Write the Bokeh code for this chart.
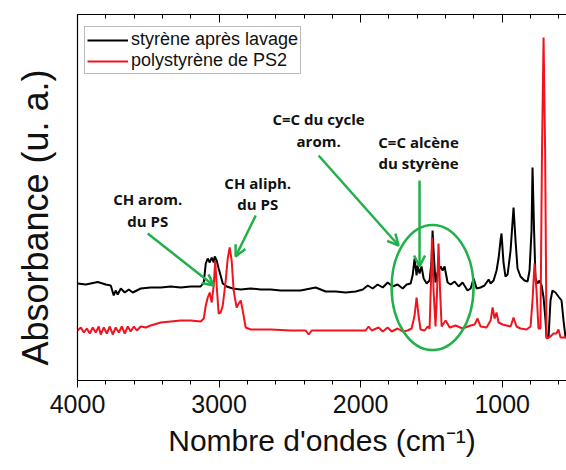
from bokeh.plotting import figure
from bokeh.models import (Range1d, LinearAxis, SingleIntervalTicker, FixedTicker,
                          Arrow, OpenHead, ColumnDataSource)
from bokeh.core.properties import value
from bokeh.embed import file_html
from bokeh.resources import INLINE

# ---------------- data ----------------
black_wn = [4000, 3941, 3857, 3800, 3765, 3744, 3730, 3716, 3694, 3666, 3638, 3610, 3553, 3483,
            3412, 3341, 3271, 3200, 3130, 3108, 3094, 3080, 3066, 3052, 3038, 3031, 3017, 3003,
            2989, 2974, 2946, 2904, 2847, 2777, 2706, 2635, 2565, 2494, 2424, 2318, 2247, 2177,
            2106, 2035, 1985, 1950, 1915, 1880, 1844, 1809, 1774, 1739, 1703, 1675, 1647, 1633,
            1619, 1605, 1598, 1584, 1570, 1555, 1534, 1513, 1499, 1492, 1485, 1471, 1457, 1435,
            1421, 1407, 1386, 1364, 1336, 1308, 1280, 1245, 1223, 1202, 1181, 1153, 1125, 1096,
            1082, 1061, 1040, 1026, 1012, 1005, 991, 977, 962, 941, 920, 906, 892, 871, 843, 821,
            807, 793, 786, 775, 765, 751, 737, 722, 708, 694, 687, 673, 659, 645, 624, 603, 581,
            567, 553, 546]
black_abs = [0.97, 0.96, 0.985, 0.96, 0.95, 0.85, 0.90, 0.86, 0.92, 0.88, 0.91, 0.88, 0.92, 0.93,
             0.93, 0.94, 0.93, 0.94, 0.94, 0.98, 1.17, 1.22, 1.18, 1.23, 1.18, 1.24, 1.20, 1.12,
             1.05, 0.97, 0.94, 0.92, 0.91, 0.92, 0.91, 0.91, 0.90, 0.90, 0.90, 0.93, 0.89, 0.89,
             0.88, 0.89, 0.91, 0.95, 0.92, 0.96, 0.93, 0.98, 0.94, 0.96, 0.92, 0.96, 0.97, 1.05,
             1.22, 1.05, 1.15, 1.07, 1.14, 1.02, 0.97, 1.00, 1.20, 1.50, 1.30, 0.98, 1.08, 1.14,
             1.10, 1.14, 0.98, 0.96, 0.99, 0.94, 0.98, 0.90, 0.92, 1.02, 0.92, 0.93, 0.95, 1.01,
             0.97, 1.00, 1.10, 1.22, 1.40, 1.47, 1.18, 1.04, 1.06, 1.30, 1.73, 1.40, 1.12, 1.04,
             1.00, 0.99, 1.10, 1.50, 2.13, 1.50, 1.02, 0.97, 1.00, 0.95, 0.83, 0.60, 0.43, 0.43,
             0.80, 0.90, 0.88, 0.84, 0.80, 0.60, 0.43, 0.43]

red_wn = [4000, 3976, 3955, 3934, 3913, 3892, 3871, 3850, 3836, 3814, 3793, 3772, 3751, 3730,
          3708, 3687, 3666, 3645, 3624, 3602, 3581, 3553, 3518, 3483, 3412, 3341, 3271, 3200,
          3130, 3108, 3094, 3080, 3066, 3052, 3038, 3027, 3017, 3003, 2989, 2974, 2953, 2939,
          2925, 2911, 2897, 2876, 2861, 2847, 2833, 2812, 2777, 2635, 2494, 2388, 2367, 2346,
          2212, 2071, 1965, 1944, 1922, 1873, 1844, 1809, 1781, 1739, 1703, 1668, 1640, 1619,
          1605, 1591, 1577, 1548, 1527, 1513, 1503, 1496, 1485, 1471, 1460, 1450, 1439, 1428,
          1400, 1371, 1329, 1280, 1223, 1195, 1174, 1153, 1111, 1082, 1068, 1054, 1040, 1026,
          997, 969, 941, 920, 899, 871, 828, 800, 786, 772, 758, 744, 730, 719, 708, 697, 687,
          659, 638, 617, 603, 588, 546]
red_abs = [0.50, 0.53, 0.48, 0.52, 0.47, 0.53, 0.48, 0.54, 0.46, 0.53, 0.47, 0.54, 0.46, 0.53,
           0.48, 0.54, 0.47, 0.54, 0.49, 0.54, 0.50, 0.54, 0.53, 0.55, 0.58, 0.59, 0.60, 0.60,
           0.59, 0.62, 0.75, 0.83, 0.88, 0.78, 0.95, 1.20, 0.95, 0.67, 0.68, 0.75, 1.00, 1.22,
           1.33, 1.20, 0.90, 0.73, 0.77, 0.80, 0.70, 0.53, 0.51, 0.51, 0.50, 0.50, 0.46, 0.50,
           0.50, 0.50, 0.50, 0.54, 0.50, 0.53, 0.49, 0.53, 0.49, 0.52, 0.49, 0.50, 0.52, 0.65,
           0.83, 0.65, 0.51, 0.50, 0.54, 0.52, 1.00, 1.43, 0.90, 0.54, 0.90, 1.37, 0.90, 0.54,
           0.60, 0.53, 0.55, 0.52, 0.55, 0.56, 0.62, 0.54, 0.53, 0.60, 0.73, 0.62, 0.68, 0.58,
           0.56, 0.55, 0.54, 0.63, 0.54, 0.52, 0.51, 0.54, 0.80, 1.17, 0.90, 0.52, 0.52, 2.30,
           3.43, 2.30, 0.42, 0.44, 0.47, 0.47, 0.51, 0.43, 0.43]

series_labels = ["styrène après lavage", "polystyrène de PS2"]
x_ticks_major = 1000
x_title = "Nombre d'ondes (cm\u207b\u00b9)"
y_title = "Absorbance (u. a.)"

# annotations (wavenumber, absorbance)
note_text = ["CH arom.", "du PS", "CH aliph.", "du PS", "C=C du cycle", "arom.",
             "C=C alcène", "du styrène"]
note_x = [3504, 3504, 2727, 2727, 2297, 2297, 1591, 1591]
note_y = [1.82, 1.60, 1.98, 1.77, 2.62, 2.40, 2.39, 2.18]
arrow_x0 = [3504, 2741, 2297, 1584]
arrow_y0 = [1.47, 1.65, 2.25, 2.00]
arrow_x1 = [3038, 2883, 1732, 1584]
arrow_y1 = [0.95, 1.24, 1.35, 1.14]
ellipse_center = (1492, 0.93)
ellipse_size = (579, 1.25)

GREEN = "#22b04b"
RED = "#f0141e"
FONT = "Liberation Sans"

p = figure(width=566, height=468, x_range=Range1d(4000, 546), y_range=Range1d(0, 3.66),
           output_backend="svg", toolbar_location=None,
           min_border_left=77, min_border_right=0, min_border_top=14, min_border_bottom=88)
p.outline_line_color = None
p.grid.visible = False
p.background_fill_color = "white"
p.border_fill_color = "white"

p.line(black_wn, black_abs, color="black", line_width=2, legend_label=series_labels[0])
p.line(red_wn, red_abs, color=RED, line_width=2, legend_label=series_labels[1])

# bottom axis
xa = p.xaxis[0]
xa.ticker = SingleIntervalTicker(interval=x_ticks_major, num_minor_ticks=5)
xa.major_tick_out = 7
xa.major_tick_in = 0
xa.minor_tick_out = 4
xa.minor_tick_in = 0
xa.major_label_standoff = 7
xa.major_label_text_font = FONT
xa.major_label_text_font_size = "25px"
xa.major_label_text_color = "#111111"
xa.axis_label = x_title
xa.axis_label_text_font = FONT
xa.axis_label_text_font_size = "30px"
xa.axis_label_text_font_style = "normal"
xa.axis_label_text_color = "#111111"
xa.axis_label_standoff = 8
xa.axis_line_width = 1.2

# top axis (ticks only)
ta = LinearAxis(ticker=SingleIntervalTicker(interval=x_ticks_major, num_minor_ticks=5))
ta.major_tick_in = 8
ta.major_tick_out = 0
ta.minor_tick_in = 4
ta.minor_tick_out = 0
ta.major_label_text_font_size = "0px"
ta.major_label_text_color = None
ta.major_label_standoff = 0
ta.axis_line_width = 1.2
p.add_layout(ta, "above")

# left axis
ya = p.yaxis[0]
ya.ticker = FixedTicker(ticks=[0.97])
ya.major_tick_in = 4
ya.major_tick_out = 0
ya.minor_tick_in = 0
ya.minor_tick_out = 0
ya.major_label_text_font_size = "0px"
ya.major_label_text_color = None
ya.major_label_standoff = 0
ya.axis_label = y_title + "\u00a0" * 4
ya.axis_label_text_font = FONT
ya.axis_label_text_font_size = "36px"
ya.axis_label_text_font_style = "normal"
ya.axis_label_text_color = "#111111"
ya.axis_label_standoff = 22
ya.axis_line_width = 1.2

# annotations
src = ColumnDataSource(dict(x=note_x, y=note_y, text=note_text))
p.text(x="x", y="y", text="text", source=src, text_font=value("Open Sans"),
       text_font_style="bold", text_font_size="15px", text_align="center",
       text_baseline="middle", text_color="#111111")
for x0, y0, x1, y1 in zip(arrow_x0, arrow_y0, arrow_x1, arrow_y1):
    p.add_layout(Arrow(end=OpenHead(size=11, line_color=GREEN, line_width=2.5),
                       x_start=x0, y_start=y0, x_end=x1, y_end=y1,
                       line_color=GREEN, line_width=2.5))
p.ellipse(x=[ellipse_center[0]], y=[ellipse_center[1]], width=ellipse_size[0],
          height=ellipse_size[1], fill_color=None, line_color=GREEN, line_width=2.5)

# legend
lg = p.legend[0]
lg.location = (7, 306)
lg.label_text_font = FONT
lg.label_text_font_size = "18px"
lg.label_text_color = "#111111"
lg.glyph_width = 41
lg.glyph_height = 20
lg.label_height = 20
lg.label_standoff = 3
lg.padding = 2
lg.spacing = 0
lg.margin = 0
lg.border_line_color = "#777777"
lg.border_line_width = 1
lg.background_fill_alpha = 1

open("out.html", "w").write(file_html(p, INLINE))
